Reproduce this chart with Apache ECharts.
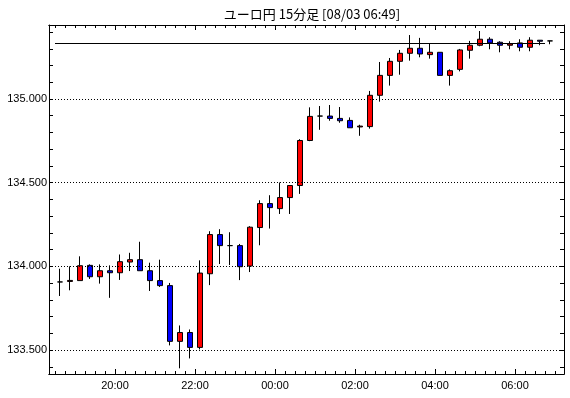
<!DOCTYPE html>
<html>
<head>
<meta charset="utf-8">
<script src="https://cdn.jsdelivr.net/npm/echarts@6/dist/echarts.min.js"></script>
<style>
html, body { margin: 0; padding: 0; background: #fff; }
#chart { width: 570px; height: 398px; }
</style>
</head>
<body>
<div id="chart"></div>
<script>
var chartTitle = 'ユーロ円 15分足 [08/03 06:49]'

// 15 minute bars, start time of each bar
var times = ['18:30', '18:45', '19:00', '19:15', '19:30', '19:45', '20:00', '20:15', '20:30', '20:45',
  '21:00', '21:15', '21:30', '21:45', '22:00', '22:15', '22:30', '22:45', '23:00', '23:15',
  '23:30', '23:45', '00:00', '00:15', '00:30', '00:45', '01:00', '01:15', '01:30', '01:45',
  '02:00', '02:15', '02:30', '02:45', '03:00', '03:15', '03:30', '03:45', '04:00', '04:15',
  '04:30', '04:45', '05:00', '05:15', '05:30', '05:45', '06:00', '06:15', '06:30', '06:45']
var opens = [133.907, 133.910, 133.915, 134.006, 133.938, 133.974, 133.962, 134.026, 134.040, 133.974,
  133.915, 133.885, 133.552, 133.605, 133.516, 133.956, 134.190, 134.124, 134.124, 134.002,
  134.232, 134.375, 134.345, 134.411, 134.483, 134.752, 134.898, 134.898, 134.884, 134.872,
  134.833, 134.835, 135.022, 135.141, 135.225, 135.273, 135.303, 135.265, 135.279, 135.141,
  135.177, 135.291, 135.321, 135.357, 135.339, 135.321, 135.335, 135.309, 135.351, 135.347]
var highs = [133.986, 134.000, 134.060, 134.012, 134.012, 134.006, 134.071, 134.081, 134.147, 134.022,
  134.040, 133.901, 133.647, 133.623, 134.036, 134.210, 134.222, 134.204, 134.134, 134.240,
  134.395, 134.425, 134.501, 134.483, 134.760, 134.950, 134.958, 134.964, 134.952, 134.890,
  134.846, 135.048, 135.221, 135.245, 135.293, 135.382, 135.365, 135.329, 135.279, 135.177,
  135.299, 135.347, 135.406, 135.369, 135.345, 135.345, 135.357, 135.369, 135.351, 135.347]
var lows = [133.823, 133.857, 133.915, 133.925, 133.897, 133.812, 133.919, 133.972, 133.974, 133.853,
  133.877, 133.528, 133.391, 133.450, 133.504, 133.888, 134.014, 134.008, 133.918, 133.966,
  134.126, 134.226, 134.313, 134.313, 134.433, 134.748, 134.816, 134.870, 134.858, 134.828,
  134.780, 134.823, 134.984, 135.080, 135.145, 135.229, 135.249, 135.241, 135.141, 135.080,
  135.165, 135.241, 135.315, 135.297, 135.279, 135.297, 135.285, 135.285, 135.321, 135.327]
var closes = [133.907, 133.916, 134.004, 133.938, 133.974, 133.962, 134.028, 134.040, 133.974, 133.915,
  133.885, 133.552, 133.605, 133.516, 133.960, 134.190, 134.124, 134.124, 133.998, 134.234,
  134.375, 134.351, 134.411, 134.483, 134.752, 134.896, 134.898, 134.884, 134.870, 134.828,
  134.838, 135.022, 135.141, 135.225, 135.273, 135.303, 135.269, 135.279, 135.141, 135.169,
  135.293, 135.321, 135.357, 135.335, 135.321, 135.329, 135.309, 135.351, 135.345, 135.347]
var currentPrice = 135.334

var yMin = 133.357
var yMax = 135.442
var yLabelValues = [133.5, 134.0, 134.5, 135.0]
var yTickValues = [133.4, 133.5, 133.6, 133.7, 133.8, 133.9, 134.0, 134.1, 134.2, 134.3, 134.4,
  134.5, 134.6, 134.7, 134.8, 134.9, 135.0, 135.1, 135.2, 135.3, 135.4]

// x axis in hours (past midnight = 24+)
var xMin = 18.35
var xMax = 31.225
var xLabelHours = [20, 22, 24, 26, 28, 30]
var xLabels = ['20:00', '22:00', '00:00', '02:00', '04:00', '06:00']

function toHour (t) {
  var p = t.split(':')
  var h = parseInt(p[0], 10) + parseInt(p[1], 10) / 60
  return h < 12 ? h + 24 : h
}

var barStarts = times.map(toHour)
// minor ticks on every bar boundary
var xMinorTicks = barStarts.concat([barStarts[barStarts.length - 1] + 0.25])

var candleData = times.map(function (t, i) {
  // bar drawn at the middle of its 15 minutes
  return [barStarts[i] + 0.125, opens[i], closes[i], lows[i], highs[i]]
})

var black = '#000'
var labelFont = 'Liberation Sans'

function xAxisDef (pos, ticks, len, withLabels) {
  return {
    type: 'value',
    position: pos,
    min: xMin,
    max: xMax,
    axisLine: { show: true, onZero: false, lineStyle: { color: black, width: 1 } },
    axisTick: { show: true, inside: true, length: len, customValues: ticks, lineStyle: { color: black } },
    axisLabel: {
      show: withLabels,
      customValues: xLabelHours,
      color: black,
      fontSize: 11,
      fontFamily: labelFont,
      margin: 6,
      formatter: function (v) {
        var i = xLabelHours.indexOf(Math.round(v))
        return i >= 0 ? xLabels[i] : ''
      }
    },
    splitLine: { show: false }
  }
}

function yAxisDef (pos, withLabels) {
  return {
    type: 'value',
    position: pos,
    min: yMin,
    max: yMax,
    axisLine: { show: true, onZero: false, lineStyle: { color: black, width: 1 } },
    axisTick: { show: true, inside: true, length: 4, customValues: yTickValues, lineStyle: { color: black } },
    axisLabel: {
      show: withLabels,
      customValues: yLabelValues,
      color: black,
      fontSize: 11,
      fontFamily: labelFont,
      margin: 2,
      formatter: function (v) { return v.toFixed(3) }
    },
    splitLine: { show: false }
  }
}

var chart = echarts.init(document.getElementById('chart'))
chart.setOption({
  animation: false,
  backgroundColor: '#fff',
  title: {
    text: chartTitle,
    left: 307,
    textAlign: 'center',
    top: 3,
    textStyle: { fontSize: 13, fontWeight: 'normal', color: black, fontFamily: 'Noto Sans CJK JP' }
  },
  grid: { left: 49, right: 6, top: 25, bottom: 24 },
  xAxis: [
    xAxisDef('bottom', xLabelHours, 5, true),
    xAxisDef('bottom', xMinorTicks, 3, false),
    xAxisDef('top', xLabelHours, 5, false),
    xAxisDef('top', xMinorTicks, 3, false)
  ],
  yAxis: [
    yAxisDef('left', true),
    yAxisDef('right', false)
  ],
  series: [
    {
      type: 'line',
      data: [],
      z: 1,
      silent: true,
      markLine: {
        silent: true,
        symbol: ['none', 'none'],
        label: { show: false },
        data: yLabelValues.map(function (v) {
          return { yAxis: v, lineStyle: { type: [1, 2], color: black, width: 1 } }
        }).concat([[
          { coord: [barStarts[0], currentPrice], lineStyle: { type: 'solid', color: black, width: 1 } },
          { coord: [barStarts[barStarts.length - 1], currentPrice] }
        ]])
      }
    },
    {
      type: 'candlestick',
      z: 3,
      barWidth: 6,
      data: candleData,
      itemStyle: {
        color: '#ff0000',
        color0: '#0000ff',
        borderColor: black,
        borderColor0: black,
        borderColorDoji: black,
        borderWidth: 1
      }
    }
  ]
})
</script>
</body>
</html>
